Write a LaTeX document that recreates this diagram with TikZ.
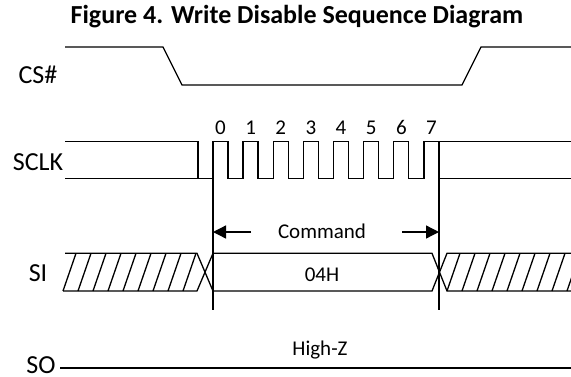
\documentclass[tikz,border=0pt]{standalone}
\usepackage{fontspec}
\setmainfont{Carlito}
\usetikzlibrary{arrows.meta}

\begin{document}
\begin{tikzpicture}[x=1pt,y=-1pt,line width=1.3pt,
    sig/.style={font=\fontsize{26}{30}\selectfont,anchor=base},
    txt/.style={font=\fontsize{21}{25}\selectfont,anchor=base},
    ttl/.style={font=\bfseries\fontsize{26}{30}\selectfont,anchor=base},
    tip/.style={-{Triangle[length=13pt,width=13pt]}}]
    \useasboundingbox (0,0) rectangle (571,376);

    \node[ttl] (title) at (297,23) {Figure 4. Write Disable Sequence Diagram};

    % CS#
    \node[sig] (cs) at (38,83) {CS\#};
    \draw (65,47) -- (163,47) -- (182,85) -- (462,85) -- (481,47) -- (571,47);

    % SCLK
    \node[sig] (sclk) at (38,170) {SCLK};
    \draw (65,141.5) -- (198,141.5) -- (198,178.5);
    \draw (65,178.5) -- (213,178.5);
    \foreach \k in {0,...,6}
        \draw (213+30.14*\k,178.5) -- ++(0,-37) -- ++(15,0) -- ++(0,37) -- ++(15.14,0);
    \draw (424,178.5) -- (424,141.5) -- (571,141.5);
    \draw (439,178.5) -- (571,178.5);
    \foreach \k in {0,...,7}
        \node[txt] (bit\k) at (220.5+30.14*\k,134.5) {\k};

    % start and end of the command
    \coordinate (start) at (213,141.5);
    \coordinate (stop) at (439,141.5);
    \draw (start) -- ++(0,168.5);
    \draw (stop) -- ++(0,168.5);

    \node[txt] (cmd) at (322,238.6) {Command};
    \coordinate (cmdl) at (251,232);
    \coordinate (cmdr) at (402,232);
    \draw[tip] (cmdl) -- (start |- cmdl);
    \draw[tip] (cmdr) -- (stop |- cmdr);

    % SI
    \node[sig] (si) at (38,281) {SI};
    \draw (65,253.3) -- (197,253.3) -- (213,291) -- (432,291) -- (447,253.3) -- (571,253.3);
    \draw (63,291) -- (197,291) -- (213,253.3) -- (432,253.3) -- (447,291) -- (571,291);
    \foreach \x in {63,78,...,183}
        \draw (\x,291) -- ++(13,-37.7);
    \foreach \x in {447,462,...,567}
        \draw (\x,291) -- ++(13,-37.7);
    \node[txt] (data) at (322,281.6) {04H};

    % SO
    \node[sig,inner sep=0pt] (so) at (41,373) {SO};
    \draw (60,368) -- (571,368);
    \node[txt] (hiz) at (320,355.6) {High-Z};

\end{tikzpicture}
\end{document}
